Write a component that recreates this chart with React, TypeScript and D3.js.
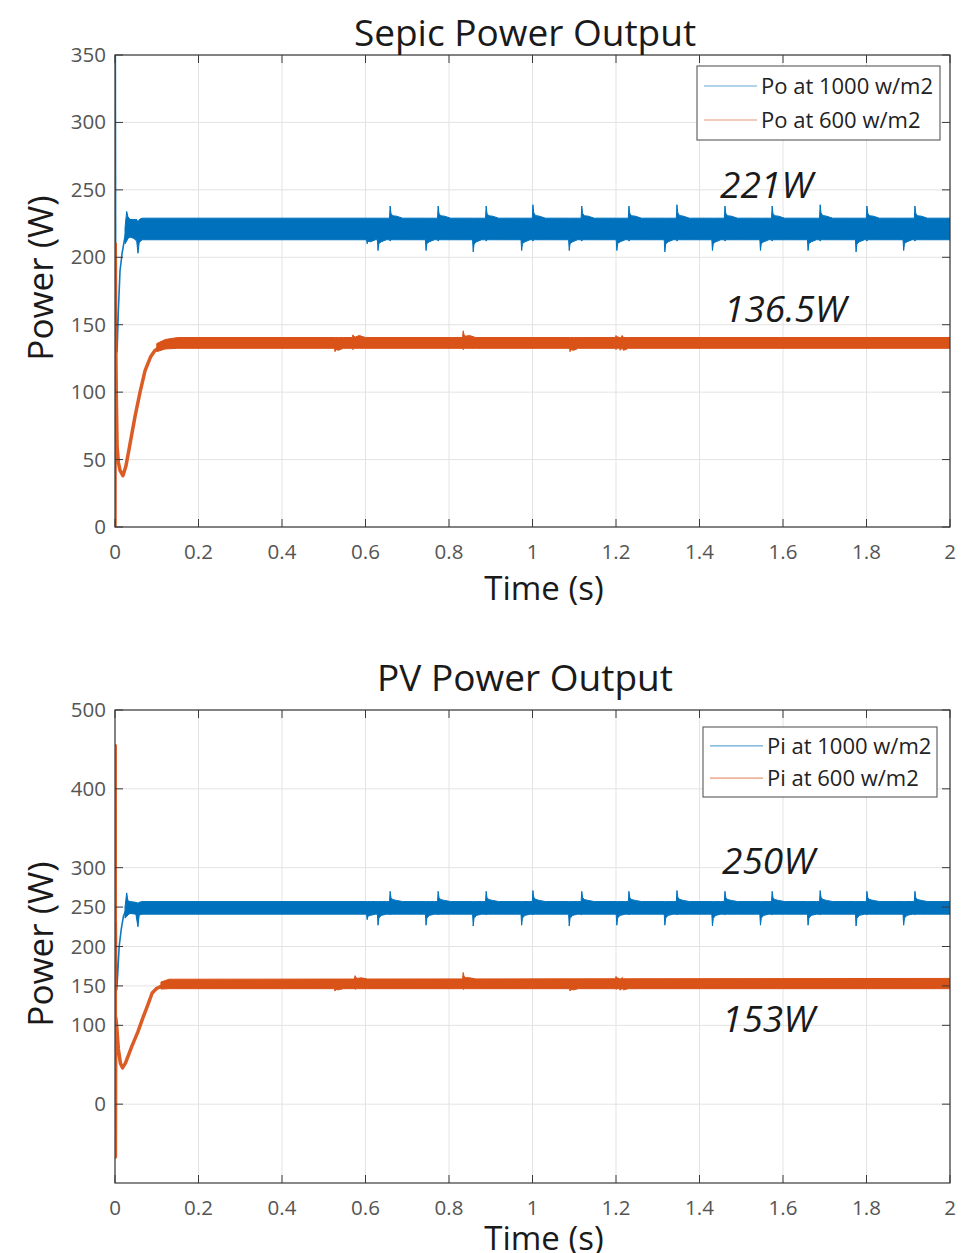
import React from 'react';
import * as d3 from 'd3';

// ---------- data ----------
const X_TICKS = [0, 0.2, 0.4, 0.6, 0.8, 1, 1.2, 1.4, 1.6, 1.8, 2];
const X_TICK_LABELS = ['0', '0.2', '0.4', '0.6', '0.8', '1', '1.2', '1.4', '1.6', '1.8', '2'];
const TOP_Y_TICKS = [0, 50, 100, 150, 200, 250, 300, 350];
const BOTTOM_Y_TICKS = [0, 100, 150, 200, 250, 300, 400, 500];

// shared switching event times (s)
const UP_SPIKE_TIMES = [0.659, 0.774, 0.889, 1.001, 1.118, 1.231, 1.346, 1.461, 1.574, 1.689, 1.801, 1.916];
const DOWN_SPIKE_TIMES = [0.604, 0.63, 0.745, 0.858, 0.974, 1.088, 1.202, 1.317, 1.431, 1.546, 1.66, 1.775, 1.889];

// Sepic output, 1000 W/m2
const PO1000_LINE: [number, number][] = [[0, 0], [0.0008, 355], [0.0016, 200], [0.003, 160], [0.005, 130], [0.008, 160], [0.012, 190], [0.017, 203], [0.022, 212], [0.026, 218]];
const PO1000_BAND: [number, number, number][] = [[0.024, 210, 222], [0.028, 212, 234], [0.031, 214, 230], [0.036, 215, 228], [0.045, 214, 228], [0.052, 212, 228], [0.055, 203, 226], [0.058, 211, 228], [0.065, 213, 229], [2, 213, 229]];
const PO1000_UP_PEAK = [238, 238, 238, 239, 238, 238, 239, 238, 238, 239, 238, 238];
const PO1000_DOWN_PEAK = [210, 205, 205, 204, 205, 205, 205, 204, 205, 205, 205, 204, 205];

// Sepic output, 600 W/m2
const PO600_LINE: [number, number][] = [[0, 0], [0.0006, 210], [0.0015, 150], [0.003, 100], [0.005, 60], [0.008, 48], [0.012, 42], [0.019, 38], [0.026, 45], [0.035, 60], [0.048, 82], [0.06, 100], [0.072, 116], [0.085, 126], [0.096, 131], [0.11, 134], [0.125, 135.5]];
const PO600_BAND: [number, number, number][] = [[0.1, 130, 136], [0.12, 132, 139], [0.15, 132.5, 140.5], [2, 132.5, 140.5]];
const PO600_UPS: [number, number][] = [[0.57, 142.5], [0.834, 145.5], [1.2, 142]];
const PO600_DOWNS: [number, number][] = [[0.527, 130], [1.09, 130], [1.21, 131]];

// PV input, 1000 W/m2
const PI1000_LINE: [number, number][] = [[0.003, 230], [0.004, 145], [0.006, 160], [0.01, 200], [0.015, 222], [0.02, 238], [0.025, 245]];
const PI1000_BAND: [number, number, number][] = [[0.024, 236, 250], [0.028, 238, 268], [0.031, 240, 258], [0.036, 242, 257], [0.05, 241, 256], [0.055, 225, 255], [0.058, 240, 256], [0.065, 241, 257], [2, 241, 257]];
const PI1000_UP_PEAK = [270, 270, 270, 271, 270, 270, 271, 270, 270, 271, 270, 270];
const PI1000_DOWN_PEAK = [234, 227, 227, 226, 227, 226, 227, 227, 226, 227, 227, 226, 227];

// PV input, 600 W/m2
const PI600_LINE: [number, number][] = [[0, 0], [0.0005, 455], [0.001, -67], [0.0018, 110], [0.004, 100], [0.008, 70], [0.013, 52], [0.018, 46], [0.025, 52], [0.04, 73], [0.055, 92], [0.065, 107], [0.078, 125], [0.089, 141], [0.1, 147], [0.113, 150], [0.13, 152]];
const PI600_BAND: [number, number, number][] = [[0.11, 146, 155], [0.13, 146.5, 158.5], [2, 146.5, 159.5]];
const PI600_UPS: [number, number][] = [[0.575, 163], [0.834, 167], [1.2, 162]];
const PI600_DOWNS: [number, number][] = [[0.527, 143.5], [1.09, 143.5], [1.21, 144.5]];

const BLUE = '#0072BD';
const ORANGE = '#D95319';

// ---------- helpers ----------
type Env = { t: number; lo: number; hi: number };

function baseAt(band: [number, number, number][], t: number): [number, number] {
  for (let i = 0; i < band.length - 1; i++) {
    const a = band[i], b = band[i + 1];
    if (t >= a[0] && t <= b[0]) {
      const f = (t - a[0]) / (b[0] - a[0]);
      return [a[1] + f * (b[1] - a[1]), a[2] + f * (b[2] - a[2])];
    }
  }
  const l = band[band.length - 1];
  return [l[1], l[2]];
}

function buildEnvelope(band: [number, number, number][], ups: [number, number][], downs: [number, number][]): Env[] {
  const windows: [number, number][] = [];
  const extra: Env[] = [];
  ups.forEach(([t, v]) => {
    const [lo, hi] = baseAt(band, t);
    windows.push([t - 0.0016, t + 0.031]);
    extra.push({ t: t - 0.0015, lo, hi });
    extra.push({ t, lo: lo - 1, hi: v });
    extra.push({ t: t + 0.002, lo, hi: hi + (v - hi) * 0.4 });
    extra.push({ t: t + 0.006, lo, hi: hi + (v - hi) * 0.2 });
    extra.push({ t: t + 0.015, lo, hi: hi + 1.5 });
    extra.push({ t: t + 0.03, lo, hi });
  });
  downs.forEach(([t, v]) => {
    const [lo, hi] = baseAt(band, t);
    windows.push([t - 0.0016, t + 0.021]);
    extra.push({ t: t - 0.0015, lo, hi });
    extra.push({ t, lo: v, hi });
    extra.push({ t: t + 0.002, lo: lo - (lo - v) * 0.35, hi });
    extra.push({ t: t + 0.008, lo: lo - 1.5, hi });
    extra.push({ t: t + 0.02, lo, hi });
  });
  const base = band
    .map(d => ({ t: d[0], lo: d[1], hi: d[2] }))
    .filter(p => !windows.some(w => p.t > w[0] && p.t < w[1]));
  return [...base, ...extra].sort((a, b) => a.t - b.t);
}

const zipTimes = (times: number[], peaks: number[]): [number, number][] => times.map((t, i) => [t, peaks[i]]);

type Series = {
  color: string;
  line: [number, number][];
  lineWidth: number;
  env: Env[];
};

type PanelProps = {
  id: string;
  top: number;
  bottom: number;
  yDomain: [number, number];
  yTicks: number[];
  title: string;
  titleY: number;
  legend: { x: number; y: number; w: number; h: number; labels: string[] };
  series: Series[];
  notes: { text: string; x: number; y: number }[];
  xLabelY: number;
  yLabelY: number;
};

const LEFT = 115;
const RIGHT = 950;
const FONT = '"Open Sans", "Noto Sans", sans-serif';

function Panel(p: PanelProps) {
  const x = d3.scaleLinear().domain([0, 2]).range([LEFT, RIGHT]);
  const y = d3.scaleLinear().domain(p.yDomain).range([p.bottom, p.top]);
  const area = d3.area<Env>().x(d => x(d.t)).y0(d => y(d.lo)).y1(d => y(d.hi));
  const line = d3.line<[number, number]>().x(d => x(d[0])).y(d => y(d[1]));
  const clipId = `clip-${p.id}`;
  const tickLen = 8;
  return (
    <g>
      <defs>
        <clipPath id={clipId}>
          <rect x={LEFT} y={p.top} width={RIGHT - LEFT} height={p.bottom - p.top} />
        </clipPath>
      </defs>
      <rect x={LEFT} y={p.top} width={RIGHT - LEFT} height={p.bottom - p.top} fill="#fff" />
      {/* grid */}
      {X_TICKS.map(t => (
        <line key={'gx' + t} x1={x(t)} x2={x(t)} y1={p.top} y2={p.bottom} stroke="#e3e3e3" strokeWidth={1} />
      ))}
      {p.yTicks.map(t => (
        <line key={'gy' + t} x1={LEFT} x2={RIGHT} y1={y(t)} y2={y(t)} stroke="#e3e3e3" strokeWidth={1} />
      ))}
      {/* data */}
      <g clipPath={`url(#${clipId})`}>
        {p.series.map((s, i) => (
          <g key={i}>
            <path d={line(s.line) || ''} fill="none" stroke={s.color} strokeWidth={s.lineWidth} strokeLinejoin="round" opacity={0.95} />
            <path d={area(s.env) || ''} fill={s.color} stroke={s.color} strokeWidth={1} strokeLinejoin="round" />
          </g>
        ))}
      </g>
      {/* axes box */}
      <rect x={LEFT} y={p.top} width={RIGHT - LEFT} height={p.bottom - p.top} fill="none" stroke="#3a3a3a" strokeWidth={1.2} />
      {X_TICKS.map(t => (
        <g key={'tx' + t}>
          <line x1={x(t)} x2={x(t)} y1={p.bottom} y2={p.bottom - tickLen} stroke="#3a3a3a" />
          <line x1={x(t)} x2={x(t)} y1={p.top} y2={p.top + tickLen} stroke="#3a3a3a" />
        </g>
      ))}
      {p.yTicks.map(t => (
        <g key={'ty' + t}>
          <line x1={LEFT} x2={LEFT + tickLen} y1={y(t)} y2={y(t)} stroke="#3a3a3a" />
          <line x1={RIGHT} x2={RIGHT - tickLen} y1={y(t)} y2={y(t)} stroke="#3a3a3a" />
        </g>
      ))}
      {/* tick labels */}
      {X_TICKS.map((t, i) => (
        <text key={'lx' + t} x={x(t)} y={p.bottom + 32} textAnchor="middle" fontFamily={FONT} fontSize={20.5} fill="#555">
          {X_TICK_LABELS[i]}
        </text>
      ))}
      {p.yTicks.map(t => (
        <text key={'ly' + t} x={LEFT - 9} y={y(t) + 7} textAnchor="end" fontFamily={FONT} fontSize={20.5} fill="#555">
          {String(t)}
        </text>
      ))}
      {/* labels */}
      <text x={525} y={p.titleY} textAnchor="middle" fontFamily={FONT} fontSize={37} fill="#1a1a1a">
        {p.title}
      </text>
      <text x={544} y={p.xLabelY} textAnchor="middle" fontFamily={FONT} fontSize={33} fill="#1a1a1a">
        Time (s)
      </text>
      <text
        transform={`translate(53, ${p.yLabelY}) rotate(-90)`}
        textAnchor="middle"
        fontFamily={FONT}
        fontSize={35}
        fill="#1a1a1a"
      >
        Power (W)
      </text>
      {/* annotations */}
      {p.notes.map(n => (
        <text key={n.text} x={n.x} y={n.y} fontFamily={FONT} fontStyle="italic" fontSize={37} fill="#1a1a1a">
          {n.text}
        </text>
      ))}
      {/* legend */}
      <rect x={p.legend.x} y={p.legend.y} width={p.legend.w} height={p.legend.h} fill="#fff" stroke="#666" strokeWidth={1.2} />
      {p.legend.labels.map((lab, i) => {
        const ly = p.legend.y + p.legend.h * (0.27 + 0.46 * i);
        return (
          <g key={lab}>
            <line x1={p.legend.x + 7} x2={p.legend.x + 60} y1={ly} y2={ly} stroke={i === 0 ? BLUE : ORANGE} strokeWidth={1.2} opacity={0.6} />
            <text x={p.legend.x + 64} y={ly + 8} fontFamily={FONT} fontSize={22} fill="#222">
              {lab}
            </text>
          </g>
        );
      })}
    </g>
  );
}

export default function App() {
  const po1000: Series = {
    color: BLUE,
    line: PO1000_LINE,
    lineWidth: 1.6,
    env: buildEnvelope(PO1000_BAND, zipTimes(UP_SPIKE_TIMES, PO1000_UP_PEAK), zipTimes(DOWN_SPIKE_TIMES, PO1000_DOWN_PEAK)),
  };
  const po600: Series = {
    color: ORANGE,
    line: PO600_LINE,
    lineWidth: 3.5,
    env: buildEnvelope(PO600_BAND, PO600_UPS, PO600_DOWNS),
  };
  const pi1000: Series = {
    color: BLUE,
    line: PI1000_LINE,
    lineWidth: 1.6,
    env: buildEnvelope(PI1000_BAND, zipTimes(UP_SPIKE_TIMES, PI1000_UP_PEAK), zipTimes(DOWN_SPIKE_TIMES, PI1000_DOWN_PEAK)),
  };
  const pi600: Series = {
    color: ORANGE,
    line: PI600_LINE,
    lineWidth: 3.5,
    env: buildEnvelope(PI600_BAND, PI600_UPS, PI600_DOWNS),
  };
  return (
    <svg width={961} height={1253} style={{ position: 'absolute', left: 0, top: 0, background: '#fff' }}>
      <rect width={961} height={1253} fill="#fff" />
      <Panel
        id="top"
        top={55}
        bottom={527}
        yDomain={[0, 350]}
        yTicks={TOP_Y_TICKS}
        title="Sepic Power Output"
        titleY={46}
        legend={{ x: 697, y: 66, w: 243, h: 74, labels: ['Po at 1000 w/m2', 'Po at 600 w/m2'] }}
        series={[po1000, po600]}
        notes={[
          { text: '221W', x: 720, y: 198 },
          { text: '136.5W', x: 724, y: 322 },
        ]}
        xLabelY={600}
        yLabelY={278}
      />
      <Panel
        id="bottom"
        top={710}
        bottom={1183}
        yDomain={[-100, 500]}
        yTicks={BOTTOM_Y_TICKS}
        title="PV Power Output"
        titleY={691}
        legend={{ x: 703, y: 727, w: 234, h: 70, labels: ['Pi at 1000 w/m2', 'Pi at 600 w/m2'] }}
        series={[pi1000, pi600]}
        notes={[
          { text: '250W', x: 722, y: 874 },
          { text: '153W', x: 722, y: 1032 },
        ]}
        xLabelY={1250}
        yLabelY={944}
      />
    </svg>
  );
}
